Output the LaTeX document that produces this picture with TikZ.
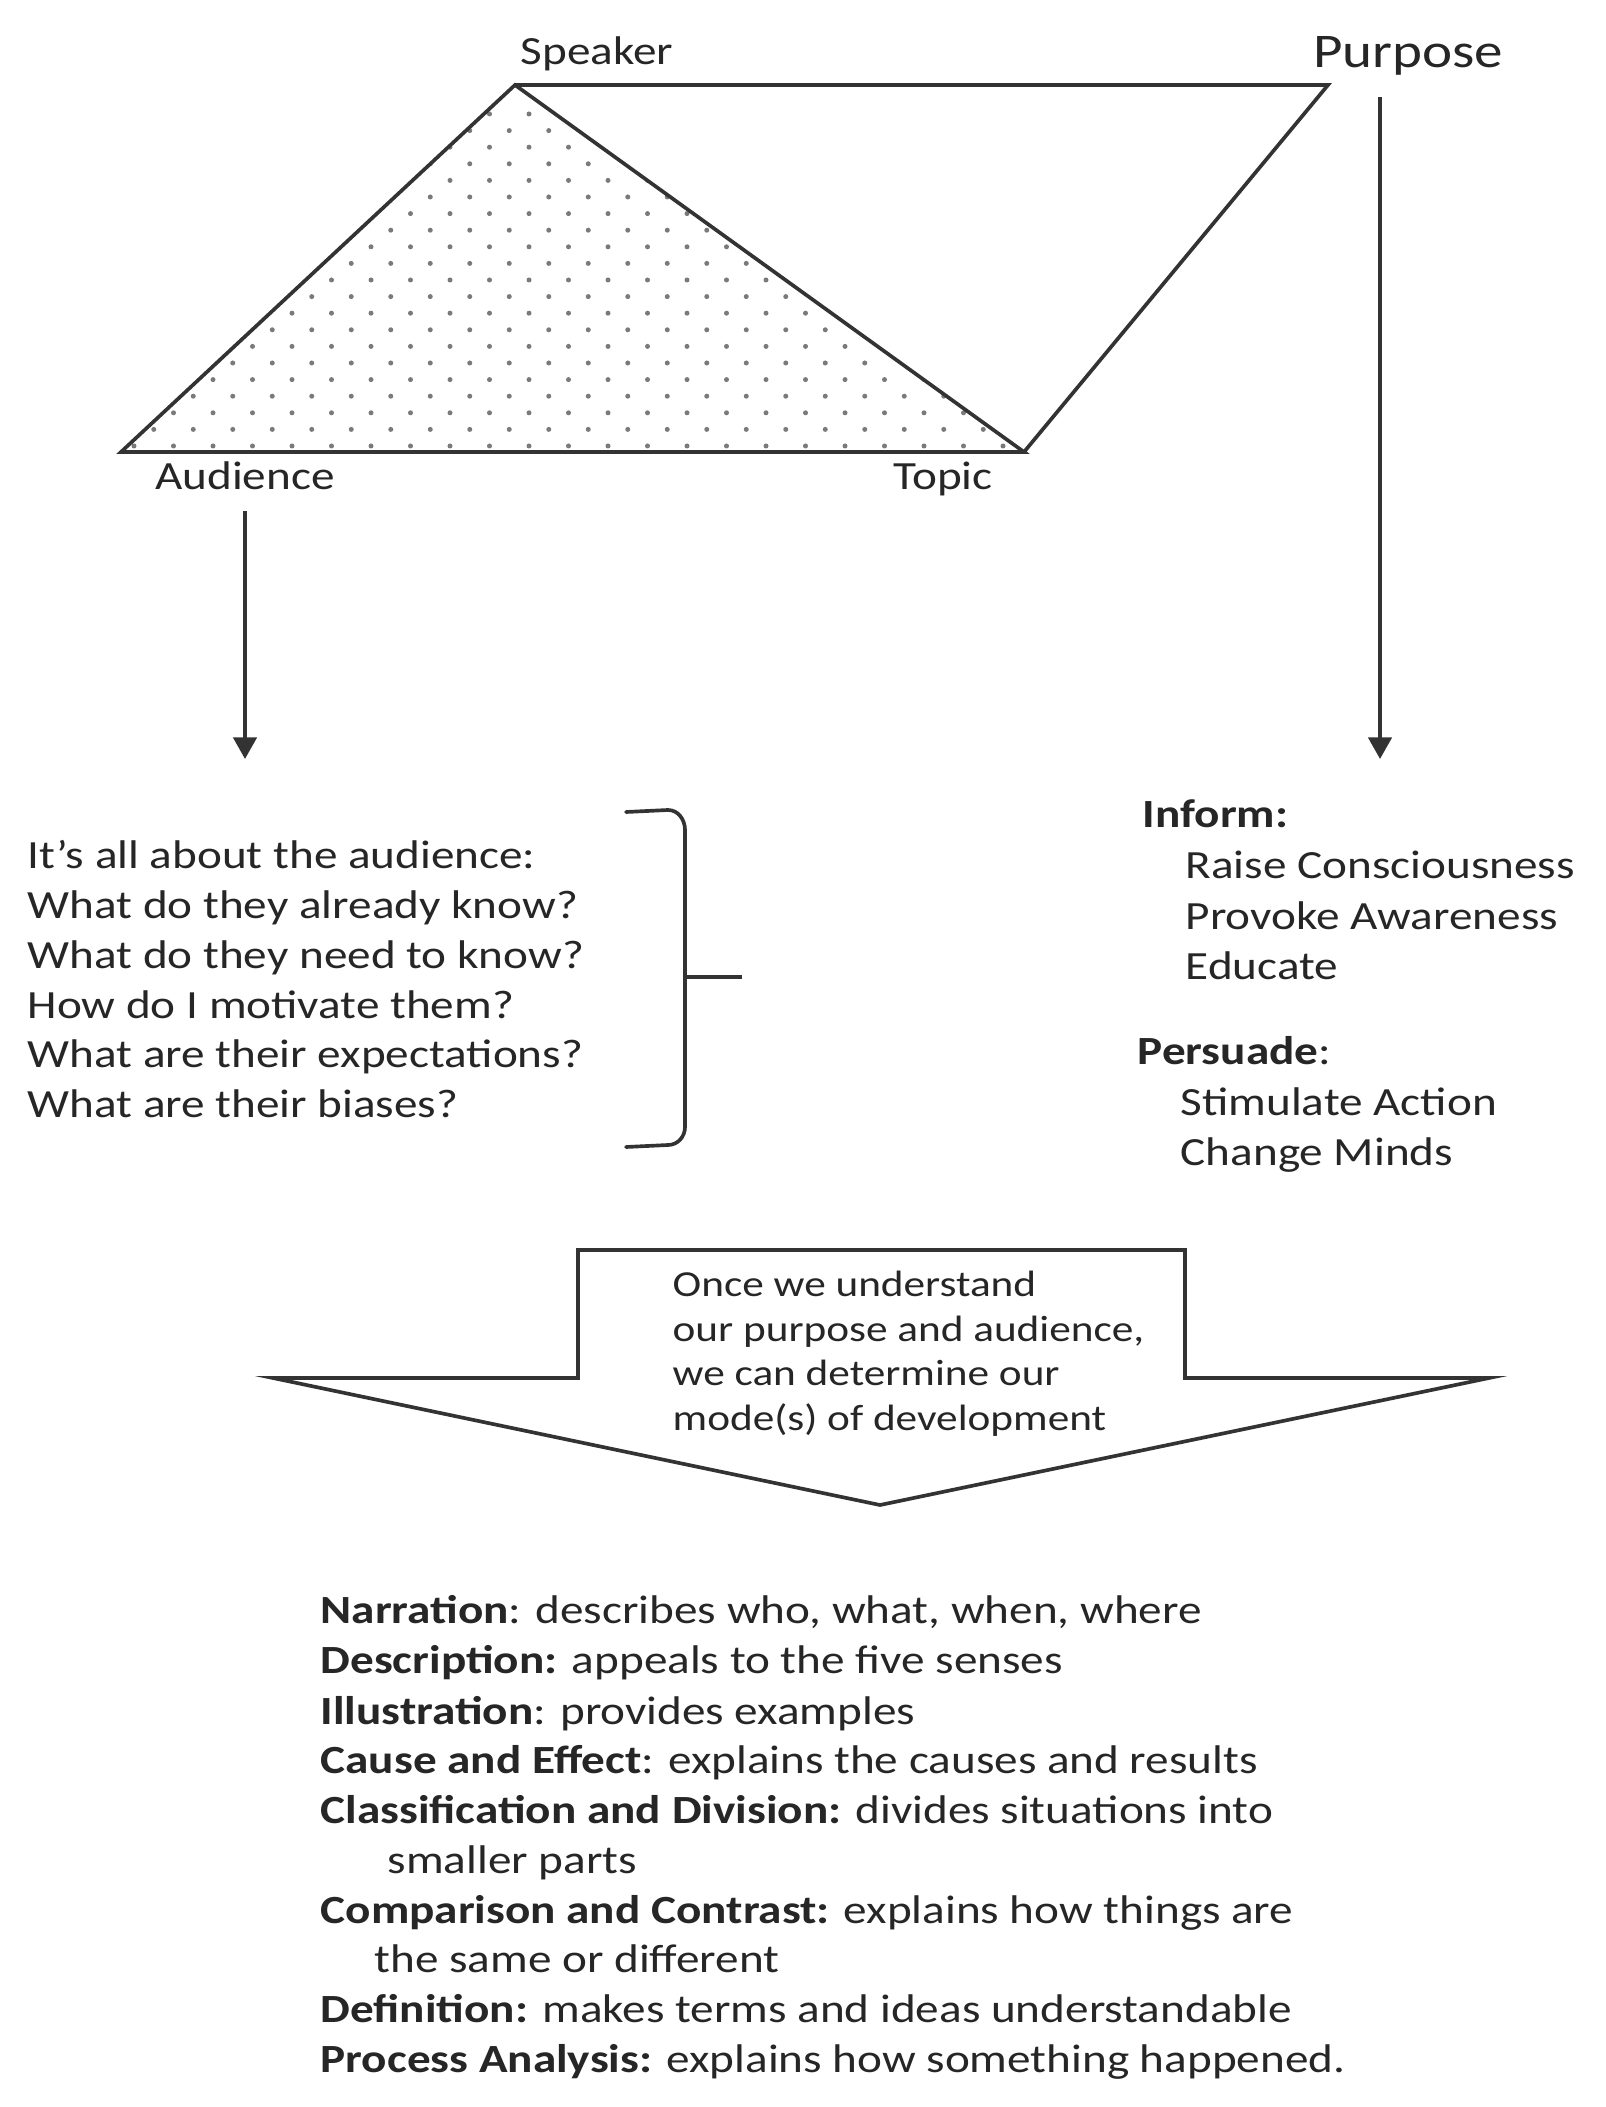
\documentclass[tikz,border=0pt]{standalone}
\usepackage{fontspec}
\setmainfont{Carlito}[FakeStretch=1.18]
\usetikzlibrary{arrows.meta}
\definecolor{ink}{HTML}{262626}
\definecolor{linec}{HTML}{333333}
\definecolor{dotc}{HTML}{7A7A7A}
\begin{document}
\begin{tikzpicture}[x=0.3pt,y=-0.3pt,
  lbl/.style={inner sep=0pt, text=ink, font=\fontsize{12}{15}\selectfont},
  big/.style={inner sep=0pt, text=ink, font=\fontsize{14.5}{17}\selectfont},
  arrtxt/.style={inner sep=0pt, text=ink, font=\fontsize{11}{13}\selectfont},
  ln/.style={draw=linec, line width=1.1pt, line join=miter},
  arr/.style={draw=linec, line width=1.1pt, -{Triangle[length=6.5pt,width=7pt]}},
]
\useasboundingbox[fill=white] (0,0) rectangle (1606,2107);

% rhetorical triangle
\coordinate (S) at (515,85);
\coordinate (P) at (1328,85);
\coordinate (A) at (121,452);
\coordinate (T) at (1024,452);

\begin{scope}
  \clip (A) -- (S) -- (T) -- cycle;
  \foreach \i in {0,...,20} {
    \pgfmathsetmacro{\yy}{114+16.6*\i}
    \pgfmathsetmacro{\xo}{529-19.75*mod(\i,2)}
    \foreach \k in {-12,...,13} {
      \fill[dotc] (\xo+39.5*\k,\yy) circle[radius=0.75pt];
    }
  }
\end{scope}
\draw[ln] (A) -- (S) -- (T) -- cycle;
\draw[ln] (S) -- (P) -- (T);

\node[lbl, anchor=base] (spk) at (597,65) {Speaker};
\node[big, anchor=base] (pur) at (1408,68) {Purpose};
\node[lbl, anchor=base] (aud) at (245,490) {Audience};
\node[lbl, anchor=base] (top) at (943,490) {Topic};

% arrows down
\coordinate (a1) at (245,511);
\coordinate (a2) at (245,759);
\coordinate (p1) at (1380,97);
\coordinate (p2) at (1380,759);
\draw[arr] (a1) -- (a2);
\draw[arr] (p1) -- (p2);

% audience questions
\node[lbl, anchor=base west] (q0) at (27,868) {It’s all about the audience:};
\node[lbl, anchor=base west] (q1) at (27,918) {What do they already know?};
\node[lbl, anchor=base west] (q2) at (27,968) {What do they need to know?};
\node[lbl, anchor=base west] (q3) at (27,1018) {How do I motivate them?};
\node[lbl, anchor=base west] (q4) at (27,1067) {What are their expectations?};
\node[lbl, anchor=base west] (q5) at (27,1117) {What are their biases?};

% bracket
\coordinate (b1) at (626,812);
\coordinate (b2) at (626,1147);
\coordinate (bt) at (742,977);
\coordinate (bm) at (685,977);
\draw[ln, line cap=round] (b1) -- (668,810) to[out=0,in=90] (685,830) -- (685,1127)
  to[out=-90,in=0] (668,1145) -- (b2);
\draw[ln] (bm) -- (bt);

% purpose list
\node[lbl, anchor=base west] (inf) at (1142,827) {\bfseries Inform:};
\node[lbl, anchor=base west] (i1) at (1185,878) {Raise Consciousness};
\node[lbl, anchor=base west] (i2) at (1185,929) {Provoke Awareness};
\node[lbl, anchor=base west] (i3) at (1185,979) {Educate};
\node[lbl, anchor=base west] (per) at (1137,1064) {\textbf{Persuade}:};
\node[lbl, anchor=base west] (s1) at (1180,1115) {Stimulate Action};
\node[lbl, anchor=base west] (s2) at (1180,1165) {Change Minds};

% big down arrow
\draw[ln, fill=white] (578,1250) -- (1185,1250) -- (1185,1378) -- (1489,1378)
  -- (880,1505) -- (273,1378) -- (578,1378) -- cycle;
\node[arrtxt, anchor=base west] (o1) at (672,1296) {Once we understand};
\node[arrtxt, anchor=base west] (o2) at (672,1341) {our purpose and audience,};
\node[arrtxt, anchor=base west] (o3) at (672,1385) {we can determine our};
\node[arrtxt, anchor=base west] (o4) at (672,1430) {mode(s) of development};

% modes of development
\node[lbl, anchor=base west] (m1) at (320,1623) {\textbf{Narration}: describes who, what, when, where};
\node[lbl, anchor=base west] (m2) at (320,1673) {\textbf{Description:} appeals to the five senses};
\node[lbl, anchor=base west] (m3) at (320,1724) {\textbf{Illustration}: provides examples};
\node[lbl, anchor=base west] (m4) at (320,1773) {\textbf{Cause and Effect}: explains the causes and results};
\node[lbl, anchor=base west] (m5) at (320,1823) {\textbf{Classification and Division:} divides situations into};
\node[lbl, anchor=base west] (m5b) at (387,1873) {smaller parts};
\node[lbl, anchor=base west] (m6) at (320,1923) {\textbf{Comparison and Contrast:} explains how things are};
\node[lbl, anchor=base west] (m6b) at (374,1972) {the same or different};
\node[lbl, anchor=base west] (m7) at (320,2022) {\textbf{Definition:} makes terms and ideas understandable};
\node[lbl, anchor=base west] (m8) at (320,2072) {\textbf{Process Analysis:} explains how something happened.};
\end{tikzpicture}
\end{document}
